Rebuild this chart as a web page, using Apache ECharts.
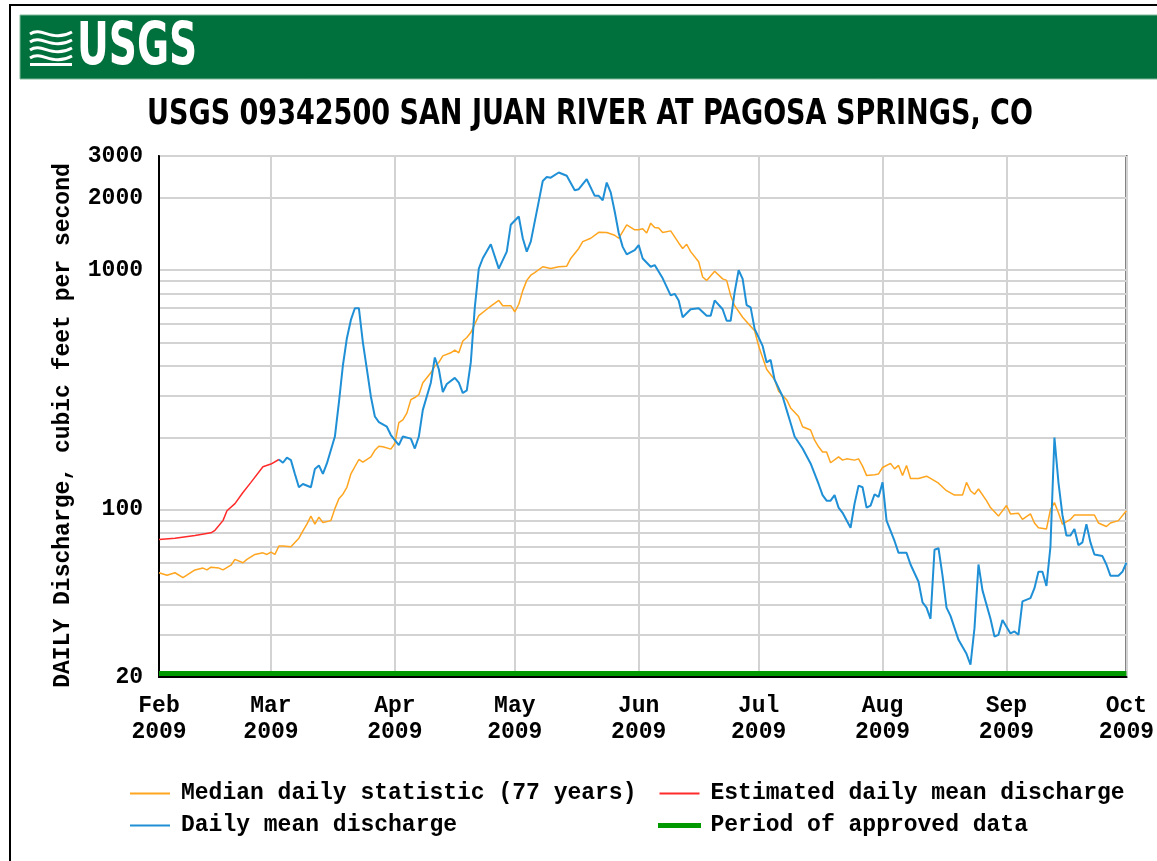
<!DOCTYPE html>
<html>
<head>
<meta charset="utf-8">
<title>USGS 09342500 San Juan River at Pagosa Springs, CO</title>
<script src="https://cdn.jsdelivr.net/npm/echarts@6/dist/echarts.min.js"></script>
<style>
  html, body { margin: 0; padding: 0; background: #fff; }
  #main { width: 1157px; height: 861px; }
</style>
</head>
<body>
<div id="main"></div>
<script>
// days counted from 2009-02-01, discharge in cubic feet per second
var estimatedDays = [0, 4, 9, 13, 14, 16, 17, 19, 21, 23, 26, 28, 30];
var estimatedCfs  = [75, 76, 78, 80, 82, 90, 99, 106, 118, 130, 151, 155, 162];

var dailyDays = [30, 31, 32, 33, 34, 35, 36, 38, 39, 40, 41, 42, 44, 45, 46, 47, 48, 49, 50, 51,
  52, 53, 54, 55, 57, 58, 60, 61, 63, 64, 65, 66, 68, 69, 70, 71, 72, 74, 75, 76,
  77, 78, 79, 80, 81, 83, 85, 87, 88, 90, 91, 92, 93, 95, 96, 97, 98, 100, 102, 104,
  105, 107, 109, 110, 111, 112, 113, 114, 115, 116, 117, 119, 120, 121, 123, 124, 126, 128, 129, 130,
  131, 133, 135, 137, 138, 139, 141, 142, 143, 144, 145, 146, 147, 148, 149, 151, 152, 153, 154, 156,
  157, 158, 159, 161, 163, 165, 166, 167, 168, 169, 170, 171, 173, 174, 175, 176, 177, 178, 179, 180,
  181, 182, 184, 185, 187, 188, 190, 191, 192, 193, 194, 195, 196, 197, 198, 200, 202, 203, 204, 205,
  206, 208, 209, 210, 211, 213, 214, 215, 216, 218, 219, 220, 221, 222, 223, 224, 225, 226, 227, 228,
  229, 230, 231, 232, 233, 234, 236, 237, 238, 240, 241, 242];
var dailyCfs = [162, 157, 165, 161, 141, 124, 128, 124, 148, 153, 141, 156, 202, 280, 400, 520, 620, 694, 694, 500,
  386, 297, 245, 232, 222, 205, 186, 202, 198, 180, 202, 261, 339, 432, 386, 310, 335, 355, 339, 307,
  315, 412, 700, 1016, 1122, 1284, 1016, 1196, 1548, 1677, 1360, 1196, 1317, 1940, 2360, 2450, 2435, 2560, 2480, 2160,
  2180, 2400, 2045, 2045, 1960, 2325, 2115, 1760, 1430, 1252, 1165, 1213, 1274, 1120, 1034, 1051, 925, 785, 797, 748,
  636, 687, 694, 646, 646, 748, 687, 615, 615, 810, 1000, 920, 715, 700, 569, 483, 412, 422, 349, 297,
  261, 230, 202, 180, 156, 128, 115, 109, 109, 115, 102, 97, 84, 106, 126, 124, 102, 104, 116, 113,
  130, 90, 74, 66, 66, 59, 50, 41, 39, 35, 68, 69, 53, 39, 36, 28.6, 25, 22.5, 32, 59,
  46, 35, 29.5, 30, 34.6, 30.4, 31, 30, 41.4, 42.7, 47, 55, 55, 48, 70, 200, 130, 95, 78, 78,
  83, 71, 73, 87, 73, 65, 64, 59, 53, 53, 55, 60];

var medianDays = [0, 2, 4, 6, 9, 11, 12, 13, 15, 16, 18, 19, 21, 22, 24, 26, 27, 28, 29, 30,
  31, 33, 35, 36, 37, 38, 39, 40, 41, 43, 44, 45, 46, 47, 48, 50, 51, 53, 54, 55,
  56, 58, 59, 60, 61, 62, 63, 64, 65, 66, 68, 69, 70, 71, 73, 74, 75, 76, 77, 78,
  79, 80, 82, 83, 85, 86, 88, 89, 90, 91, 92, 93, 94, 96, 98, 100, 102, 103, 105, 106,
  108, 110, 112, 114, 115, 117, 119, 120, 121, 122, 123, 124, 125, 126, 128, 130, 131, 132, 133, 135,
  136, 137, 139, 141, 142, 143, 144, 146, 149, 150, 152, 154, 155, 157, 158, 160, 161, 163, 164, 165,
  166, 167, 168, 170, 171, 172, 174, 175, 176, 177, 179, 180, 181, 183, 184, 185, 186, 187, 188, 190,
  192, 193, 195, 197, 199, 201, 202, 203, 204, 205, 207, 208, 210, 212, 213, 215, 216, 218, 219, 220,
  222, 223, 224, 225, 226, 228, 229, 234, 235, 237, 238, 240, 242];
var medianCfs = [54.5, 53.2, 54.5, 52, 56, 57, 56, 57.5, 57, 56, 58.6, 62, 60, 62, 65, 66, 65, 66.5, 65, 70.5,
  70.5, 70, 76, 81.6, 87, 94, 87, 93, 88.4, 90, 101, 111, 116, 124, 141, 162, 158, 166, 177, 184,
  183, 179, 189, 231, 237, 253, 288, 294, 302, 339, 373, 398, 412, 439, 452, 464, 452, 506, 524, 549,
  596, 646, 687, 708, 748, 711, 711, 670, 721, 822, 907, 953, 978, 1034, 1016, 1034, 1040, 1120, 1233, 1317,
  1360, 1440, 1438, 1400, 1360, 1548, 1475, 1475, 1490, 1430, 1573, 1508, 1500, 1438, 1460, 1300, 1233, 1284, 1196, 1085,
  937, 907, 990, 920, 907, 785, 711, 636, 559, 483, 386, 349, 312, 288, 266, 245, 222, 215, 195, 183,
  174, 174, 157, 166, 161, 163, 161, 163, 152, 139, 140, 141, 150, 156, 148, 153, 139, 153, 135, 135,
  138, 135, 129, 120, 115, 115, 130, 120, 116, 122, 109, 102, 94, 104, 96, 96.5, 91, 96, 88, 84,
  83, 100, 107, 97, 87, 91, 95, 95, 88, 85, 88, 90, 99];

// approved period: start day, end day, sits on the axis floor (cfs)
var approvedPeriods = [[0, 242, 20]];

var yLabelValues = [20, 100, 1000, 2000, 3000];
var yGridValues  = [20, 30, 40, 50, 60, 70, 80, 90, 100, 200, 300, 400, 500, 600, 700, 800, 900, 1000, 2000, 3000];
var monthNames = ['Jan', 'Feb', 'Mar', 'Apr', 'May', 'Jun', 'Jul', 'Aug', 'Sep', 'Oct', 'Nov', 'Dec'];

var DAY = 86400000;
var START = Date.UTC(2009, 1, 1);
var END = Date.UTC(2009, 9, 1);

function toTime(d) {
    return START + d * DAY;
}

function pairs(days, vals) {
    return days.map(function (d, i) { return [toTime(d), vals[i]]; });
}

var MONO = '"Liberation Mono", "DejaVu Sans Mono", monospace';
var NARROW = '"Liberation Sans Narrow", "DejaVu Sans Condensed", "Arial Narrow", sans-serif';
var labelFont = { fontFamily: MONO, fontWeight: 'bold', fontSize: 23, color: '#000' };
var legendText = { fontFamily: MONO, fontWeight: 'bold', fontSize: 23, lineHeight: 23, color: '#000', padding: [0, 0, 0, 6] };

function wave(y) {
    return { type: 'bezierCurve', silent: true,
             shape: { x1: 30, y1: y, cpx1: 42, cpy1: y - 8, cpx2: 52, cpy2: y + 9, x2: 72, y2: y - 2 },
             style: { fill: 'none', stroke: '#fff', lineWidth: 3 } };
}

var myChart = echarts.init(document.getElementById('main'));
myChart.setOption({
    useUTC: true,
    animation: false,
    backgroundColor: '#fff',
    graphic: [
        { type: 'rect', silent: true, shape: { x: 10, y: 5, width: 1200, height: 900 },
          style: { fill: 'none', stroke: '#000', lineWidth: 2 } },
        { type: 'rect', silent: true, shape: { x: 20, y: 15, width: 1160, height: 64 },
          style: { fill: '#00703c', stroke: '#7fb89a', lineWidth: 1 } },
        wave(34), wave(42), wave(50), wave(58),
        { type: 'rect', silent: true, shape: { x: 30, y: 63, width: 42, height: 3 }, style: { fill: '#fff' } },
        { type: 'text', silent: true, x: 77, y: 20, scaleX: 0.75,
          style: { text: 'USGS', fill: '#fff', font: 'bold 58px ' + NARROW } },
        { type: 'text', silent: true, x: 147, y: 97, scaleX: 0.835,
          style: { text: 'USGS 09342500 SAN JUAN RIVER AT PAGOSA SPRINGS, CO', fill: '#000',
                   font: 'bold 36px ' + NARROW } }
    ],
    grid: {
        left: 159, top: 156, right: 27, bottom: 184,
        show: true, borderColor: '#333', borderWidth: 2,
        containLabel: false
    },
    legend: [{
        left: 130, top: 782, orient: 'vertical', padding: 0,
        icon: 'rect', itemWidth: 40, itemHeight: 2, itemGap: 9,
        selectedMode: false,
        itemStyle: { borderWidth: 0 },
        textStyle: legendText,
        data: ['Median daily statistic (77 years)', 'Daily mean discharge']
    }, {
        left: 658, top: 782, orient: 'vertical', padding: 0,
        icon: 'rect', itemWidth: 40, itemHeight: 2, itemGap: 9,
        selectedMode: false,
        itemStyle: { borderWidth: 0 },
        textStyle: legendText,
        data: ['Estimated daily mean discharge',
               { name: 'Period of approved data', itemStyle: { borderColor: '#009900', borderWidth: 3 } }]
    }],
    xAxis: {
        type: 'time',
        min: START,
        max: END,
        splitNumber: 8,
        axisLine: { show: true, lineStyle: { color: '#000', width: 2 } },
        axisTick: { show: false },
        axisLabel: {
            fontFamily: MONO, fontWeight: 'bold', fontSize: 23, color: '#000',
            lineHeight: 26, margin: 16, hideOverlap: false,
            showMinLabel: true, showMaxLabel: true,
            formatter: function (v) {
                var d = new Date(v);
                return monthNames[d.getUTCMonth()] + '\n' + d.getUTCFullYear();
            }
        },
        splitLine: { show: true, lineStyle: { color: '#d3d3d3', width: 2 } }
    },
    yAxis: {
        type: 'log',
        logBase: 10,
        min: 20,
        max: 3000,
        name: 'DAILY Discharge, cubic feet per second',
        nameLocation: 'middle',
        nameGap: 84,
        nameRotate: 90,
        nameTextStyle: Object.assign({ padding: [0, 18, 0, 0] }, labelFont),
        axisLine: { show: true, lineStyle: { color: '#000', width: 2 } },
        axisTick: { show: false, customValues: yGridValues },
        axisLabel: {
            customValues: yLabelValues,
            fontFamily: MONO, fontWeight: 'bold', fontSize: 23, color: '#000', margin: 16,
            formatter: function (v) { return String(Math.round(v)); }
        },
        splitLine: { show: true, lineStyle: { color: '#d3d3d3', width: 2 } }
    },
    series: [{
        name: 'Period of approved data',
        type: 'custom',
        color: '#009900',
        silent: true,
        encode: { x: [0, 1], y: 2 },
        renderItem: function (params, api) {
            var p0 = api.coord([api.value(0), api.value(2)]);
            var p1 = api.coord([api.value(1), api.value(2)]);
            // thick bar drawn just above the floor of the plot
            return { type: 'rect', shape: { x: p0[0], y: p0[1] - 6, width: p1[0] - p0[0], height: 5 },
                     style: { fill: '#009900' } };
        },
        data: approvedPeriods.map(function (p) { return [toTime(p[0]), toTime(p[1]), p[2]]; })
    }, {
        name: 'Median daily statistic (77 years)',
        type: 'line',
        color: '#ffa51f',
        showSymbol: false,
        silent: true,
        lineStyle: { color: '#ffa51f', width: 1.5 },
        data: pairs(medianDays, medianCfs)
    }, {
        name: 'Estimated daily mean discharge',
        type: 'line',
        color: '#ff2a2a',
        showSymbol: false,
        silent: true,
        lineStyle: { color: '#ff2a2a', width: 1.5 },
        data: pairs(estimatedDays, estimatedCfs)
    }, {
        name: 'Daily mean discharge',
        type: 'line',
        color: '#1f8fd6',
        showSymbol: false,
        silent: true,
        lineStyle: { color: '#1f8fd6', width: 2 },
        data: pairs(dailyDays, dailyCfs)
    }]
});
</script>
</body>
</html>
